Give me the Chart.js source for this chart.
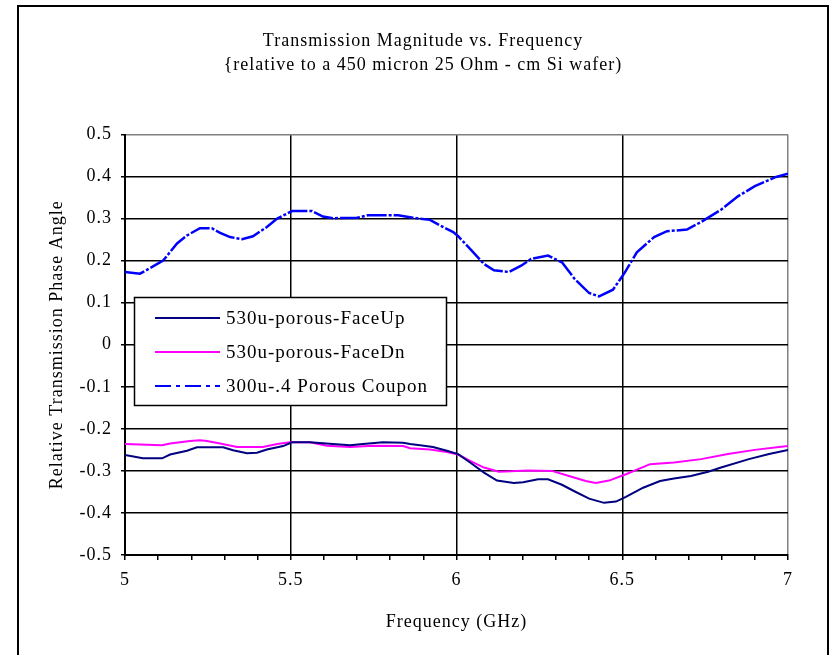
<!DOCTYPE html>
<html>
<head>
<meta charset="utf-8">
<script src="https://cdn.jsdelivr.net/npm/chart.js@4/dist/chart.umd.min.js"></script>
<style>
  html, body { margin: 0; padding: 0; background: #fff; }
  canvas { display: block; }
</style>
</head>
<body>
<canvas id="c" width="831" height="655"></canvas>
<script>
// ---- Data ----
const titleLines = ['Transmission Magnitude vs. Frequency', '{relative to a 450 micron 25 Ohm - cm Si wafer)'];
const xTitle = 'Frequency (GHz)';
const yTitle = 'Relative Transmission Phase Angle';
const seriesNames = ['530u-porous-FaceUp', '530u-porous-FaceDn', '300u-.4 Porous Coupon'];

const upFreq = [5.0,5.054,5.112,5.136,5.187,5.217,5.296,5.326,5.368,5.398,5.428,5.477,5.504,5.558,5.627,5.679,5.718,5.778,5.839,5.860,5.890,5.929,5.971,6.005,6.041,6.083,6.122,6.173,6.201,6.246,6.276,6.318,6.357,6.40,6.445,6.481,6.511,6.563,6.614,6.656,6.707,6.759,6.798,6.882,6.943,7.0];
const upVals = [-0.262,-0.270,-0.270,-0.261,-0.252,-0.244,-0.244,-0.251,-0.258,-0.257,-0.249,-0.241,-0.232,-0.232,-0.236,-0.239,-0.236,-0.232,-0.233,-0.236,-0.239,-0.243,-0.252,-0.260,-0.280,-0.304,-0.323,-0.329,-0.327,-0.320,-0.320,-0.333,-0.349,-0.366,-0.376,-0.373,-0.362,-0.340,-0.324,-0.318,-0.312,-0.302,-0.292,-0.272,-0.260,-0.250];

const dnFreq = [5.0,5.112,5.136,5.196,5.226,5.247,5.287,5.338,5.416,5.459,5.498,5.558,5.609,5.679,5.748,5.839,5.860,5.920,5.971,6.005,6.041,6.083,6.128,6.216,6.288,6.339,6.39,6.42,6.46,6.511,6.584,6.656,6.738,6.819,6.900,6.973,7.0];
const dnVals = [-0.236,-0.239,-0.235,-0.229,-0.227,-0.229,-0.235,-0.243,-0.243,-0.236,-0.232,-0.232,-0.240,-0.243,-0.240,-0.241,-0.246,-0.249,-0.255,-0.261,-0.276,-0.292,-0.302,-0.299,-0.300,-0.312,-0.324,-0.329,-0.323,-0.308,-0.284,-0.280,-0.272,-0.260,-0.250,-0.243,-0.241];

const couponFreq = [5.0,5.045,5.075,5.115,5.157,5.187,5.226,5.262,5.287,5.317,5.353,5.386,5.428,5.459,5.504,5.564,5.597,5.627,5.70,5.733,5.824,5.869,5.92,5.95,5.99,6.005,6.041,6.083,6.113,6.158,6.195,6.225,6.276,6.318,6.357,6.40,6.43,6.472,6.508,6.544,6.596,6.635,6.695,6.738,6.798,6.849,6.90,6.964,7.0];
const couponVals = [0.173,0.169,0.182,0.20,0.241,0.26,0.277,0.277,0.266,0.256,0.251,0.258,0.280,0.30,0.318,0.318,0.305,0.301,0.302,0.308,0.308,0.302,0.297,0.284,0.268,0.258,0.228,0.192,0.177,0.173,0.188,0.204,0.212,0.196,0.156,0.123,0.115,0.131,0.172,0.22,0.256,0.27,0.274,0.292,0.321,0.353,0.377,0.399,0.407];

const xMin = 5, xMax = 7, xStep = 0.1;
const yMin = -0.5, yMax = 0.5, yStep = 0.1;

// ---- Styling ----
const FONT = '"Liberation Serif", "Times New Roman", Times, serif';
const SPACING = '1px';
const pts = (xs, ys) => xs.map((x, i) => ({ x: x, y: ys[i] }));
const near = (a, b) => Math.abs(a - b) < 1e-6;
const isHalf = v => near(v * 2, Math.round(v * 2));

const spacingPlugin = {
  id: 'spacing',
  beforeUpdate(chart) { chart.ctx.letterSpacing = SPACING; },
  beforeDraw(chart) {
    const c = chart.ctx;
    c.letterSpacing = SPACING;
    c.save();
    c.fillStyle = '#fff';
    c.fillRect(0, 0, chart.width, chart.height);
    c.strokeStyle = '#000';
    c.lineWidth = 2;
    c.strokeRect(18, 6, 810, 720);
    c.restore();
  }
};

const legendPlugin = {
  id: 'boxLegend',
  afterDatasetsDraw(chart) {
    const c = chart.ctx, a = chart.chartArea;
    const bx = a.left + 9.5, by = a.top + 163, bw = 312, bh = 108;
    c.save();
    c.fillStyle = '#fff';
    c.fillRect(bx, by, bw, bh);
    c.strokeStyle = '#000';
    c.lineWidth = 1.5;
    c.strokeRect(bx, by, bw, bh);
    c.font = '19px ' + FONT;
    c.textBaseline = 'middle';
    c.textAlign = 'left';
    chart.data.datasets.forEach((ds, i) => {
      const y = by + 20.5 + i * 34;
      c.beginPath();
      c.strokeStyle = ds.borderColor;
      c.lineWidth = 2;
      c.setLineDash(ds.legendDash || []);
      c.moveTo(bx + 20.5, y);
      c.lineTo(bx + 85.5, y);
      c.stroke();
      c.setLineDash([]);
      c.fillStyle = '#000';
      c.fillText(ds.label, bx + 91.5, y + 1);
    });
    c.restore();
  }
};

new Chart(document.getElementById('c'), {
  type: 'line',
  data: {
    datasets: [
      { label: seriesNames[0], data: pts(upFreq, upVals), borderColor: '#000080', borderWidth: 2, pointRadius: 0, tension: 0, fill: false },
      { label: seriesNames[1], data: pts(dnFreq, dnVals), borderColor: '#FF00FF', borderWidth: 2, pointRadius: 0, tension: 0, fill: false },
      { label: seriesNames[2], data: pts(couponFreq, couponVals), borderColor: '#0000FF', borderWidth: 2.5, borderDash: [20, 2, 3, 2], legendDash: [16, 5, 4, 5], pointRadius: 0, tension: 0, fill: false }
    ]
  },
  options: {
    responsive: false,
    animation: false,
    devicePixelRatio: 1,
    layout: { padding: { left: 20, right: 5, top: 6, bottom: 0 } },
    plugins: {
      legend: { display: false },
      tooltip: { enabled: false },
      title: {
        display: true,
        text: titleLines,
        color: '#000',
        font: { family: FONT, size: 18, weight: 'normal', lineHeight: 24 / 18 },
        padding: { top: 23, bottom: 57.5 }
      }
    },
    scales: {
      x: {
        type: 'linear',
        min: xMin, max: xMax,
        afterFit(s) { s.height = 100; },
        ticks: {
          stepSize: xStep, autoSkip: false, maxRotation: 0, padding: 9, color: '#000',
          font: { family: FONT, size: 18 },
          callback: v => isHalf(v) ? String(Math.round(v * 2) / 2) : ''
        },
        grid: {
          lineWidth: 1.5,
          tickLength: 5,
          tickColor: '#000',
          tickWidth: 1.5,
          color: ctx => {
            const v = ctx.tick ? ctx.tick.value : 0;
            if (near(v, xMax)) return '#808080';
            return isHalf(v) ? '#000' : 'rgba(0,0,0,0)';
          }
        },
        border: { color: '#000', width: 2 },
        title: { display: true, text: xTitle, color: '#000', font: { family: FONT, size: 18 }, padding: { top: 0, bottom: 22 } }
      },
      y: {
        min: yMin, max: yMax,
        afterFit(s) { s.width = 105; },
        ticks: {
          stepSize: yStep, padding: 9, color: '#000',
          font: { family: FONT, size: 18 },
          callback: v => Math.abs(v) < 1e-9 ? '0' : (Math.round(v * 10) / 10).toFixed(1)
        },
        grid: {
          lineWidth: 1.5,
          tickLength: 4,
          tickColor: '#000',
          tickWidth: 1.5,
          color: ctx => {
            const v = ctx.tick ? ctx.tick.value : 0;
            return near(v, yMax) ? '#808080' : '#000';
          }
        },
        border: { color: '#000', width: 2 },
        title: { display: true, text: yTitle, color: '#000', font: { family: FONT, size: 18 }, padding: { top: 26, bottom: 0 } }
      },
      yRightSpace: {
        position: 'right',
        display: true,
        min: yMin, max: yMax,
        afterFit(s) { s.width = 38; },
        ticks: { display: false },
        grid: { display: false, drawTicks: false },
        border: { display: false }
      }
    }
  },
  plugins: [spacingPlugin, legendPlugin]
});
</script>
</body>
</html>
